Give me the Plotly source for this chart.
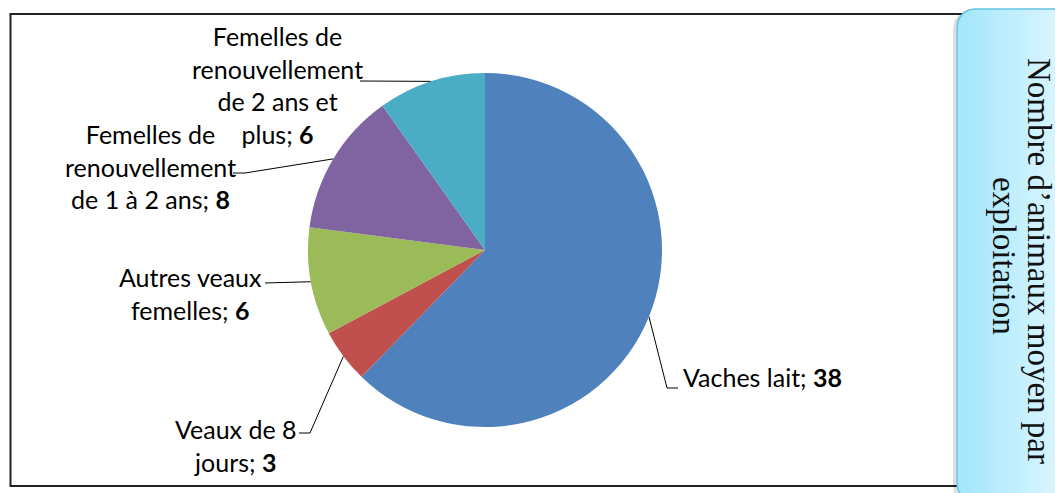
"""
Pie chart: nombre d'animaux moyen par exploitation
"""

import numpy as np
import plotly.graph_objects as go

categories = ["Vaches lait", "Veaux de 8 jours", "Autres veaux femelles",
              "Femelles de renouvellement de 1 à 2 ans",
              "Femelles de renouvellement de 2 ans et plus"]
values = [38, 3, 6, 8, 6]
colors = ["#4f81bd", "#c0504d", "#9bbb59", "#8064a2", "#4bacc6"]
# label text as wrapped in the chart
label_lines = [
    ["Vaches lait;"],
    ["Veaux de 8", "jours;"],
    ["Autres veaux", "femelles;"],
    ["Femelles de", "renouvellement", "de 1 à 2 ans;"],
    ["Femelles de", "renouvellement", "de 2 ans et", "plus;"],
]
side_title = ["Nombre d’animaux moyen par", "exploitation"]

# page body has an 8px margin: axes are set so that 1 unit = 1 window pixel
OFF = 8
W, H = 1063, 493
CX, CY, R = 485, 250, 177   # pie centre / radius in window pixels

# label placement: (x, y, xanchor, elbow points towards the text)
label_pos = [
    (681, 377, "left", [(667, 388), (678, 388)]),
    (236, 445, "center", [(310, 433), (299, 433)]),
    (190, 293, "center", [(282, 283), (265, 283)]),
    (150, 166, "center", [(245, 173), (233, 173)]),
    (277, 85, "center", [(360, 81)]),
]

FONT = "Lato"


def rounded_rect(x0, y0, x1, y1, r, n=16):
    t = np.linspace(0, np.pi / 2, n)
    xs = np.concatenate([x0 + r - r * np.cos(t), x1 - r + r * np.sin(t),
                         x1 - r + r * np.cos(t), x0 + r - r * np.sin(t)])
    ys = np.concatenate([y0 + r - r * np.sin(t), y0 + r - r * np.cos(t),
                         y1 - r + r * np.sin(t), y1 - r + r * np.cos(t)])
    return list(xs) + [xs[0]], list(ys) + [ys[0]]


fig = go.Figure()

# side title box (shadow + gradient box)
bx, by = rounded_rect(957, 9, 1085, 502, 18)
fig.add_trace(go.Scatter(x=[v - 2.5 for v in bx], y=[v + 1.5 for v in by],
                         mode="lines", line=dict(color="rgba(0,0,0,0.13)", width=3),
                         hoverinfo="skip", showlegend=False))
fig.add_trace(go.Scatter(x=bx, y=by, mode="lines", fill="toself",
                         fillgradient=dict(type="horizontal",
                                           colorscale=[[0, "#a2e5fb"], [1, "#e8faff"]]),
                         line=dict(color="#63c3df", width=1.5),
                         hoverinfo="skip", showlegend=False))

# pie
fw, fh = W - OFF, H - OFF
fig.add_trace(go.Pie(labels=categories, values=values, sort=False,
                     direction="clockwise", rotation=0,
                     marker=dict(colors=colors, line=dict(width=0)),
                     textinfo="none", showlegend=False,
                     domain=dict(x=[(CX - R - OFF) / fw, (CX + R - OFF) / fw],
                                 y=[(H - CY - R) / fh, (H - CY + R) / fh])))

# leader lines and labels
total = sum(values)
cum = np.cumsum(values)
for i, v in enumerate(values):
    a = np.deg2rad((cum[i] - v / 2) / total * 360)
    px0, py0 = CX + R * np.sin(a), CY - R * np.cos(a)
    x, y, xanchor, elbow = label_pos[i]
    fig.add_trace(go.Scatter(x=[px0] + [p[0] for p in elbow],
                             y=[py0] + [p[1] for p in elbow],
                             mode="lines", line=dict(color="black", width=1),
                             hoverinfo="skip", showlegend=False))
    text = "<br>".join(label_lines[i]) + " <b>%d</b>" % v
    fig.add_annotation(x=x, y=y, xref="x", yref="y", text=text, showarrow=False,
                       xanchor=xanchor, yanchor="middle", align="center",
                       font=dict(family=FONT, size=25, color="black"))

# vertical side title, one annotation per line
for txt, tx, ty in zip(side_title, [1039, 1004], [261, 256]):
    fig.add_annotation(x=tx, y=ty, xref="x", yref="y", text=txt,
                       showarrow=False, textangle=90,
                       font=dict(family="Liberation Serif", size=33, color="#111"))

# outer frame of the chart
fig.add_shape(type="rect", xref="x", yref="y", x0=10.5, y0=14, x1=990, y1=486,
              line=dict(color="#222", width=2), layer="below")

fig.update_layout(width=fw, height=fh, margin=dict(l=0, r=0, t=0, b=0),
                  paper_bgcolor="white", plot_bgcolor="white",
                  xaxis=dict(range=[OFF, W], visible=False, fixedrange=True),
                  yaxis=dict(range=[H, OFF], visible=False, fixedrange=True))

fig.write_html("out.html")
